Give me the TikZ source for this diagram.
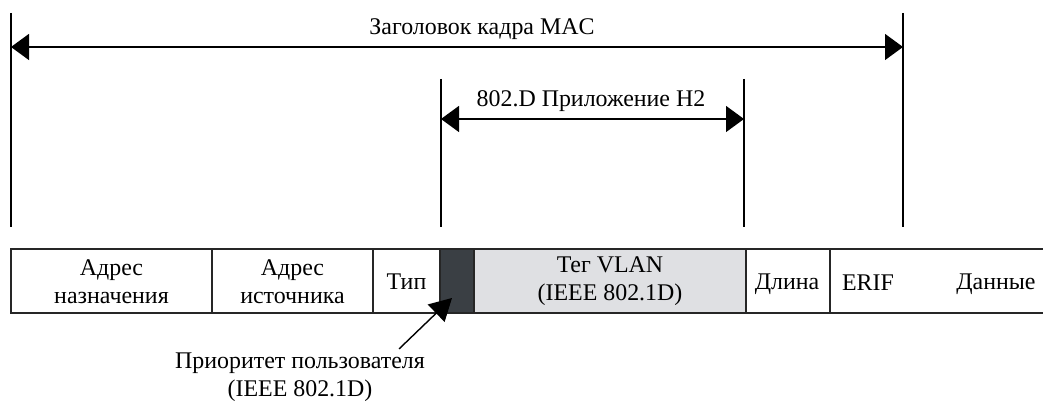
\documentclass[tikz,border=0pt]{standalone}
\usepackage{fontspec}
\setmainfont{Liberation Serif}
\usetikzlibrary{arrows.meta}
\definecolor{prioshade}{HTML}{3A3F44}
\definecolor{tagshade}{HTML}{DFE0E3}
\tikzset{
	span/.style={{Triangle[length=9bp,width=13bp]}-{Triangle[length=9bp,width=13bp]}, line width=0.7bp},
	pointer/.style={-{Triangle[length=11bp,width=12bp]}, line width=0.7bp},
	bound/.style={line width=0.7bp},
	field/.style={draw=black!85, line width=0.8bp},
	label/.style={font=\fontsize{12}{14}\selectfont, align=center, inner sep=1bp},
}
\begin{document}
\begin{tikzpicture}[x=0.5bp, y=-0.5bp]
			\useasboundingbox (0,0) rectangle (1043,405);
			
			\coordinate (hdrL) at (11,47);
			\coordinate (hdrR) at (903,47);
			\coordinate (annL) at (441,119);
			\coordinate (annR) at (744,119);
			
			\draw[bound] (11,13) -- (11,227);
			\draw[bound] (903,13) -- (903,227);
			\draw[bound] (441,79) -- (441,227);
			\draw[bound] (744,79) -- (744,227);
			
			\draw[span] (hdrL) -- (hdrR);
			\node[label] (hdr) at (482,29) {Заголовок кадра MAC};
			\draw[span] (annL) -- (annR);
			\node[label] (ann) at (591,101) {802.D Приложение H2};
			
			\filldraw[fill=white, field] (11,249) rectangle (212,313);
			\node[label] (dst) at (111.5,282) {Адрес\\назначения};
			\filldraw[fill=white, field] (212,249) rectangle (373,313);
			\node[label] (src) at (292.5,282) {Адрес\\источника};
			\filldraw[fill=white, field] (373,249) rectangle (440,313);
			\node[label] (type) at (406.5,282) {Тип};
			\filldraw[fill=prioshade, field] (440,249) rectangle (474,313);
			\coordinate (prio) at (452,298);
			\filldraw[fill=tagshade, field] (474,249) rectangle (746,313);
			\node[label] (tag) at (610,281) {Тег VLAN\\(IEEE 802.1D)};
			\filldraw[fill=white, field] (746,249) rectangle (830,313);
			\node[label] (len) at (787,284) {Длина};
			\draw[field] (1043,249) -- (830,249) -- (830,313) -- (1043,313);
			\node[label] (erif) at (868,283) {ERIF};
			\node[label] (data) at (996,284) {Данные};
			
			\node[label] (user) at (300,377) {Приоритет пользователя\\(IEEE 802.1D)};
			\coordinate (usertail) at (399,349);
			\draw[pointer] (usertail) -- (prio);
		\end{tikzpicture}
\end{document}
